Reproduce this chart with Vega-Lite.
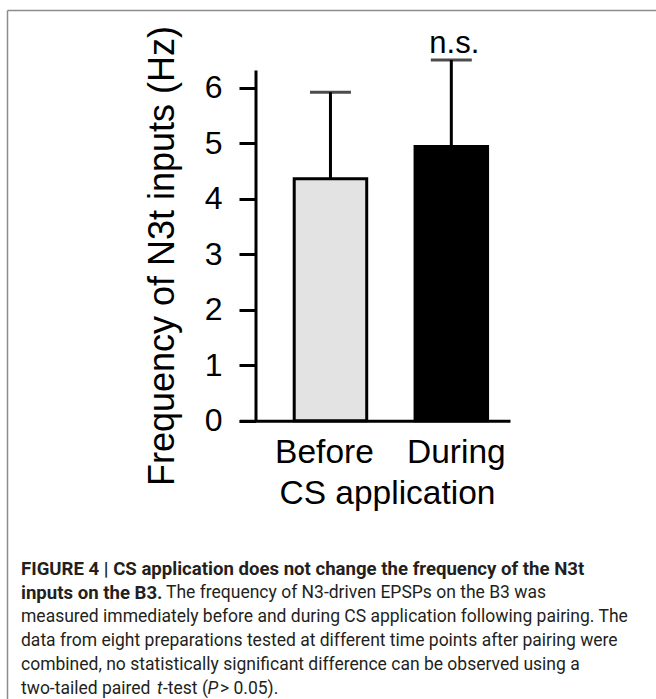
{
  "$schema": "https://vega.github.io/schema/vega-lite/v6.json",
  "width": 649,
  "height": 689,
  "padding": {"left": 7, "top": 10, "right": 0, "bottom": 0},
  "autosize": {"type": "none"},
  "background": "white",
  "config": {"view": {"stroke": null}, "axis": {"grid": false}},
  "datasets": {
    "bars": [
      {"condition": "Before", "mean": 4.36, "upper": 5.92, "label": ""},
      {"condition": "During", "mean": 4.94, "upper": 6.5, "label": "n.s."}
    ],
    "capBold": [
      {"line": 1, "text": "FIGURE 4 | CS application does not change the frequency of the N3t"},
      {"line": 2, "text": "inputs on the B3."}
    ],
    "capLine2": [
      {"line": 2, "text": "The frequency of N3-driven EPSPs on the B3 was"}
    ],
    "capBody": [
      {"line": 3, "text": "measured immediately before and during CS application following pairing. The"},
      {"line": 4, "text": "data from eight preparations tested at different time points after pairing were"},
      {"line": 5, "text": "combined, no statistically significant difference can be observed using a"},
      {"line": 6, "text": "two-tailed paired"}
    ],
    "capT": [{"line": 6, "text": "t"}],
    "capTest": [{"line": 6, "text": "-test ("}],
    "capP": [{"line": 6, "text": "P"}],
    "capEnd": [{"line": 6, "text": "> 0.05)."}]
  },
  "layer": [
    {
      "layer": [
        {
          "data": {"name": "capBold"},
          "mark": {"type": "text", "font": "Roboto", "fontSize": 18.6, "fontWeight": "bold", "align": "left", "baseline": "middle", "dx": 14, "color": "#231f20"},
          "encoding": {
            "x": {"datum": 0, "type": "quantitative", "scale": {"domain": [0, 1]},
                  "axis": {"orient": "top", "domain": true, "domainColor": "#8c8c8c", "domainWidth": 1.5, "ticks": false, "labels": false, "title": null, "grid": false}},
            "y": {"field": "line", "type": "quantitative", "scale": {"domain": [-22.29, 6.417], "reverse": true, "nice": false, "zero": false},
                  "axis": {"orient": "left", "domain": true, "domainColor": "#8c8c8c", "domainWidth": 1.5, "ticks": false, "labels": false, "title": null, "grid": false}},
            "text": {"field": "text"}
          }
        },
        {
          "data": {"name": "capLine2"},
          "mark": {"type": "text", "font": "Roboto", "fontSize": 17.5, "align": "left", "baseline": "middle", "dx": 159, "color": "#231f20"},
          "encoding": {
            "x": {"datum": 0, "type": "quantitative"},
            "y": {"field": "line", "type": "quantitative"},
            "text": {"field": "text"}
          }
        },
        {
          "data": {"name": "capBody"},
          "mark": {"type": "text", "font": "Roboto", "fontSize": 17.5, "align": "left", "baseline": "middle", "dx": 14, "color": "#231f20"},
          "encoding": {
            "x": {"datum": 0, "type": "quantitative"},
            "y": {"field": "line", "type": "quantitative"},
            "text": {"field": "text"}
          }
        },
        {
          "data": {"name": "capT"},
          "mark": {"type": "text", "font": "Roboto", "fontSize": 17.5, "fontStyle": "italic", "align": "left", "baseline": "middle", "dx": 150, "color": "#231f20"},
          "encoding": {
            "x": {"datum": 0, "type": "quantitative"},
            "y": {"field": "line", "type": "quantitative"},
            "text": {"field": "text"}
          }
        },
        {
          "data": {"name": "capTest"},
          "mark": {"type": "text", "font": "Roboto", "fontSize": 17.5, "align": "left", "baseline": "middle", "dx": 156, "color": "#231f20"},
          "encoding": {
            "x": {"datum": 0, "type": "quantitative"},
            "y": {"field": "line", "type": "quantitative"},
            "text": {"field": "text"}
          }
        },
        {
          "data": {"name": "capP"},
          "mark": {"type": "text", "font": "Roboto", "fontSize": 17.5, "fontStyle": "italic", "align": "left", "baseline": "middle", "dx": 200.5, "color": "#231f20"},
          "encoding": {
            "x": {"datum": 0, "type": "quantitative"},
            "y": {"field": "line", "type": "quantitative"},
            "text": {"field": "text"}
          }
        },
        {
          "data": {"name": "capEnd"},
          "mark": {"type": "text", "font": "Roboto", "fontSize": 17.5, "align": "left", "baseline": "middle", "dx": 213, "color": "#231f20"},
          "encoding": {
            "x": {"datum": 0, "type": "quantitative"},
            "y": {"field": "line", "type": "quantitative"},
            "text": {"field": "text"}
          }
        }
      ]
    },
    {
      "data": {"name": "bars"},
      "layer": [
        {
          "mark": {"type": "bar", "stroke": "black", "strokeWidth": 3},
          "encoding": {
            "x": {
              "field": "condition", "type": "nominal",
              "scale": {"domain": ["Before", "During"], "range": [232.3, 503], "paddingInner": 0.4, "paddingOuter": 0.32, "align": 0.71},
              "axis": {
                "orient": "bottom", "offset": -278.3, "domainColor": "black", "domainWidth": 3,
                "ticks": false, "tickSize": 0,
                "labelFont": "Liberation Sans", "labelFontSize": 33.5, "labelColor": "black", "labelPadding": 42, "labelBaseline": "alphabetic", "labelAngle": 0,
                "labelOffset": {"condition": {"test": "datum.value === 'Before'", "value": -6}, "value": 5},
                "title": "CS application", "titleFont": "Liberation Sans", "titleFontSize": 33.5, "titleFontWeight": "normal", "titleColor": "black",
                "titleX": 380, "titleY": 83, "titleAlign": "center", "titleBaseline": "alphabetic", "grid": false
              }
            },
            "y": {
              "field": "mean", "type": "quantitative",
              "scale": {"domain": [0, 6.32], "range": [410.7, 60], "nice": false, "zero": true},
              "axis": {
                "orient": "left", "offset": -248.5, "values": [0, 1, 2, 3, 4, 5, 6], "format": "d",
                "domainColor": "black", "domainWidth": 3, "tickColor": "black", "tickWidth": 3, "tickSize": 16.5,
                "labelFont": "Liberation Sans", "labelFontSize": 32, "labelColor": "black", "labelPadding": 17,
                "title": "Frequency of N3t inputs (Hz)", "titleFont": "Liberation Sans", "titleFontSize": 36, "titleFontWeight": "normal", "titleColor": "black",
                "titleX": -93.5, "titleY": 245.5, "titleAngle": -90, "titleAlign": "center", "titleBaseline": "middle", "grid": false
              }
            },
            "color": {"field": "condition", "type": "nominal", "scale": {"domain": ["Before", "During"], "range": ["#e3e3e3", "#000000"]}, "legend": null}
          }
        },
        {
          "mark": {"type": "rule", "color": "black", "strokeWidth": 3},
          "encoding": {
            "x": {"field": "condition", "type": "nominal"},
            "y": {"field": "mean", "type": "quantitative"},
            "y2": {"field": "upper"}
          }
        },
        {
          "mark": {"type": "tick", "color": "black", "thickness": 3, "size": 41, "orient": "horizontal"},
          "encoding": {
            "x": {"field": "condition", "type": "nominal"},
            "y": {"field": "upper", "type": "quantitative"}
          }
        },
        {
          "transform": [{"filter": "datum.label != ''"}],
          "mark": {"type": "text", "font": "Liberation Sans", "fontSize": 31, "baseline": "alphabetic", "align": "center", "dy": -7, "dx": 3, "color": "black"},
          "encoding": {
            "x": {"field": "condition", "type": "nominal"},
            "y": {"field": "upper", "type": "quantitative"},
            "text": {"field": "label"}
          }
        }
      ]
    }
  ],
  "resolve": {
    "scale": {"x": "independent", "y": "independent", "color": "independent"},
    "axis": {"x": "independent", "y": "independent"}
  }
}
